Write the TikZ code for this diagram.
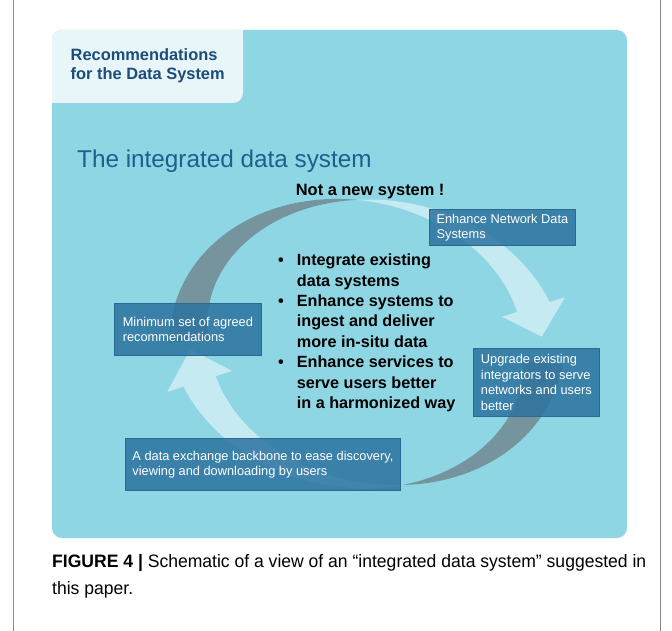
\documentclass[tikz,border=0pt]{standalone}
\usepackage{fontspec}
\setmainfont{Liberation Sans}
\newfontfamily\capfont[FakeStretch=0.975]{Liberation Sans}
\usepackage{xcolor}
\usepackage[]{tikz}
\usetikzlibrary{positioning}
\definecolor{bgTeal}{HTML}{8ED6E3}
\definecolor{headFill}{HTML}{E8F5F9}
\definecolor{headBlue}{HTML}{1A4D7A}
\definecolor{titleBlue}{HTML}{1E5F8C}
\definecolor{boxBlue}{HTML}{2C739F}
\definecolor{boxEdge}{HTML}{2A6A92}
\definecolor{ribbonGray}{HTML}{6E7F86}
\definecolor{frameGray}{HTML}{8A8A8A}
\tikzstyle{boxNode}  =[draw=boxEdge, line width=0.8pt, fill=boxBlue, fill opacity=0.85, text opacity=1, text=white, anchor=north west, inner xsep=6pt, inner ysep=0pt, align=left, font=\fontsize{12.8}{14.8}\selectfont]
\tikzstyle{textNode} =[anchor=base west, inner sep=0pt, align=left]
\tikzstyle{ribbonDark}  =[fill=ribbonGray, fill opacity=0.75]
\tikzstyle{ribbonLight} =[fill=white, fill opacity=0.5]

\begin{document}
\begin{tikzpicture}[x=1pt, y=-1pt]
      \useasboundingbox (0,0) rectangle (672,631);
      \draw[frameGray, line width=0.8pt] (13,0) -- (13,631) (660,0) -- (660,631);
      % panel
      \fill[bgTeal, rounded corners=10pt] (52,30) rectangle (627,538);
      \fill[headFill, rounded corners=10pt] (52,30) rectangle (243,103);
      \fill[headFill] (52,70) rectangle (120,103);
      \fill[headFill] (180,30) rectangle (243,70);
      % circular ribbons
      \begin{scope}[shift={(366,343)}, rotate=-10]
        \fill[ribbonDark] plot[domain=168:259, samples=50] ({(178+20*(259-\x)/91)*cos(\x)}, {(142+20*(259-\x)/91)*sin(\x)})
          -- plot[domain=259:168, samples=50] ({(178-20*(259-\x)/91)*cos(\x)}, {(142-20*(259-\x)/91)*sin(\x)}) -- cycle;
        \fill[ribbonLight] plot[domain=259:333, samples=50] ({(178+17*(\x-259)/74)*cos(\x)}, {(142+17*(\x-259)/74)*sin(\x)})
          -- ({211*cos(333)}, {175*sin(333)}) -- ({178*cos(345)}, {142*sin(345)}) -- ({145*cos(333)}, {109*sin(333)})
          -- plot[domain=333:259, samples=50] ({(178-17*(\x-259)/74)*cos(\x)}, {(142-17*(\x-259)/74)*sin(\x)}) -- cycle;
        \fill[ribbonDark] plot[domain=355:430, samples=50] ({(178+20*(430-\x)/75)*cos(\x)}, {(142+20*(430-\x)/75)*sin(\x)})
          -- plot[domain=430:355, samples=50] ({(178-20*(430-\x)/75)*cos(\x)}, {(142-20*(430-\x)/75)*sin(\x)}) -- cycle;
        \fill[ribbonLight] plot[domain=430:512, samples=50] ({(178+17*(\x-430)/82)*cos(\x)}, {(142+17*(\x-430)/82)*sin(\x)})
          -- ({212*cos(512)}, {176*sin(512)}) -- ({178*cos(525)}, {142*sin(525)}) -- ({144*cos(512)}, {108*sin(512)})
          -- plot[domain=512:430, samples=50] ({(178-17*(\x-430)/82)*cos(\x)}, {(142-17*(\x-430)/82)*sin(\x)}) -- cycle;
      \end{scope}
      % texts (base = last line)
      \node[textNode, text=headBlue, font=\bfseries\fontsize{16.4}{18.6}\selectfont] (heading) at (70.5,79.3) {Recommendations\\for the Data System};
      \node[textNode, text=titleBlue, font=\fontsize{24.3}{28}\selectfont] (title) at (77,168) {The integrated data system};
      \node[textNode, font=\bfseries\fontsize{16.4}{20}\selectfont] (notnew) at (295.7,196) {Not a new system !};
      \node[textNode, font=\bfseries\fontsize{16.2}{20.4}\selectfont] (bullets) at (296.7,408.5)
        {\llap{\textbullet\hspace{13pt}}Integrate existing\\data systems\\
         \llap{\textbullet\hspace{13pt}}Enhance systems to\\ingest and deliver\\more in-situ data\\
         \llap{\textbullet\hspace{13pt}}Enhance services to\\serve users better\\in a harmonized way};
      % boxes
      \node[boxNode, minimum width=146pt, minimum height=36pt] (enhance) at (429,209) {Enhance Network Data\\Systems};
      \node[boxNode, minimum width=147pt, minimum height=52pt, font=\fontsize{12.8}{15.3}\selectfont] (minset) at (114,303) {Minimum set of agreed\\recommendations};
      \node[boxNode, minimum width=126pt, minimum height=68pt, font=\fontsize{12.8}{15.7}\selectfont] (upgrade) at (473,348) {Upgrade existing\\integrators to serve\\networks and users\\better};
      \node[boxNode, minimum width=275pt, minimum height=52pt, font=\fontsize{12.8}{15}\selectfont] (backbone) at (125,438) {A data exchange backbone to ease discovery,\\viewing and downloading by users};
      % caption
      \node[textNode, font=\capfont\fontsize{18}{27}\selectfont] (caption) at (52,594) {\textbf{FIGURE 4 |} Schematic of a view of an “integrated data system” suggested in\\this paper.};
    \end{tikzpicture}
\end{document}
